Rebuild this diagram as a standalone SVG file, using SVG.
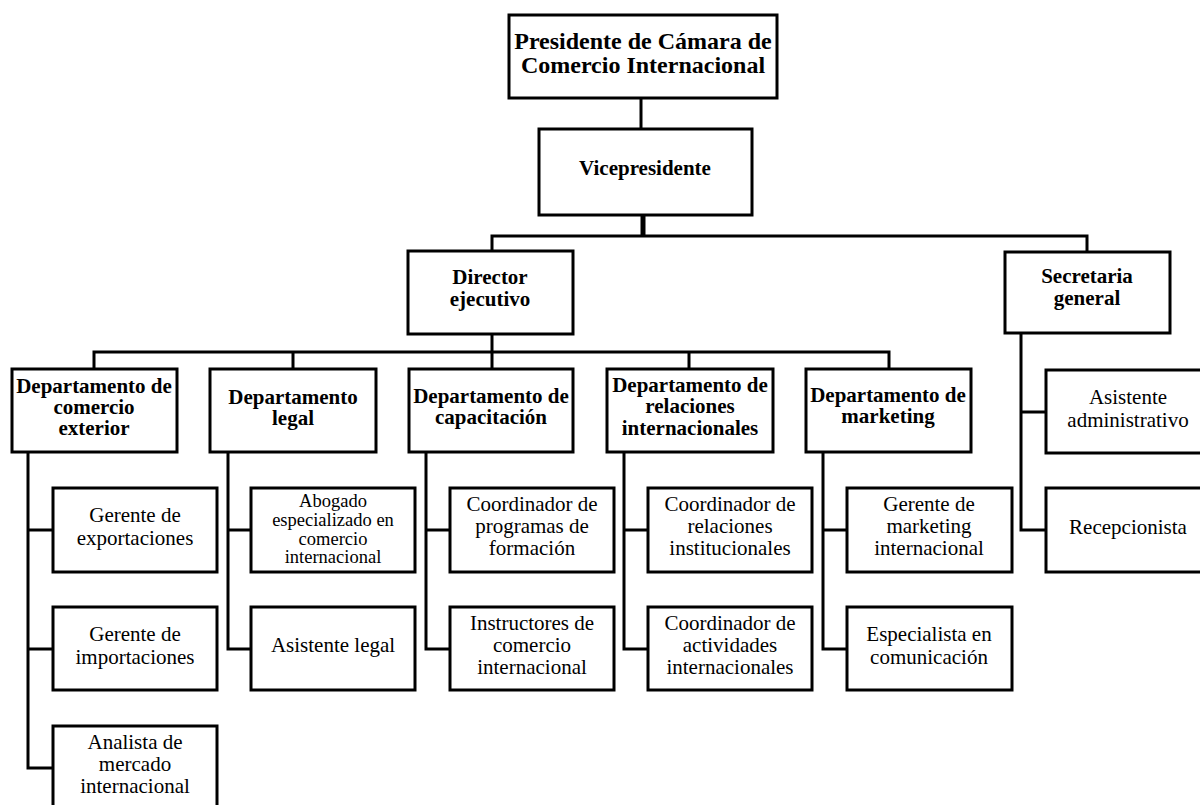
<svg xmlns="http://www.w3.org/2000/svg" width="1200" height="805" viewBox="0 0 1200 805">
<style>
rect{fill:#fff;stroke:#000;stroke-width:3}
.c path{fill:none;stroke:#000;stroke-width:3}
text{font-family:"Liberation Serif","Times New Roman",serif;fill:#000;text-anchor:middle}
.b{font-weight:bold;font-size:21px}
.n{font-size:21px}
.s{font-size:18.5px}
</style>
<rect x="0" y="0" width="1200" height="805" style="fill:#fff;stroke:none"/>
<g class="c" id="connectors">
<path d="M641 98V129"/>
<path d="M643 215V236" style="stroke-width:5"/>
<path d="M492 251V236H1087V251"/>
<path d="M492 334V352"/>
<path d="M94 369V352H889V369"/>
<path d="M293 352V369M492 352V369M689 352V369"/>
<path d="M28 452V768H53M28 530H53M28 649H53"/>
<path d="M228 452V649H251M228 530H251"/>
<path d="M426 452V649H450M426 530H450"/>
<path d="M624 452V649H648M624 530H648"/>
<path d="M823 452V649H847M823 530H847"/>
<path d="M1021 333V530H1046M1021 412H1046"/>
</g>
<g id="presidente"><rect x="509" y="15" width="268" height="83"/>
<text class="b" style="font-size:24px" x="643" y="49">Presidente de Cámara de</text><text class="b" style="font-size:24px" x="643" y="73">Comercio Internacional</text></g>
<g id="vicepresidente"><rect x="539" y="129" width="213" height="86"/>
<text class="b" x="645" y="175">Vicepresidente</text></g>
<g id="director"><rect x="408" y="251" width="165" height="83"/>
<text class="b" x="490" y="284">Director</text><text class="b" x="490" y="306">ejecutivo</text></g>
<g id="secretaria"><rect x="1005" y="252" width="165" height="81"/>
<text class="b" x="1087" y="283">Secretaria</text><text class="b" x="1087" y="305">general</text></g>
<g id="dep-comercio"><rect x="12" y="369" width="165" height="83"/>
<text class="b" x="94" y="393">Departamento de</text><text class="b" x="94" y="414">comercio</text><text class="b" x="94" y="435">exterior</text></g>
<g id="dep-legal"><rect x="210" y="369" width="166" height="83"/>
<text class="b" x="293" y="404">Departamento</text><text class="b" x="293" y="425">legal</text></g>
<g id="dep-capacitacion"><rect x="409" y="369" width="164" height="83"/>
<text class="b" x="491" y="403">Departamento de</text><text class="b" x="491" y="424">capacitación</text></g>
<g id="dep-relaciones"><rect x="607" y="369" width="166" height="83"/>
<text class="b" x="690" y="392">Departamento de</text><text class="b" x="690" y="413">relaciones</text><text class="b" x="690" y="435">internacionales</text></g>
<g id="dep-marketing"><rect x="806" y="369" width="165" height="83"/>
<text class="b" x="888" y="402">Departamento de</text><text class="b" x="888" y="423">marketing</text></g>
<g id="gerente-exportaciones"><rect x="53" y="488" width="164" height="84"/>
<text class="n" x="135" y="522">Gerente de</text><text class="n" x="135" y="545">exportaciones</text></g>
<g id="gerente-importaciones"><rect x="53" y="607" width="164" height="83"/>
<text class="n" x="135" y="641">Gerente de</text><text class="n" x="135" y="664">importaciones</text></g>
<g id="analista"><rect x="53" y="726" width="164" height="84"/>
<text class="n" x="135" y="749">Analista de</text><text class="n" x="135" y="771">mercado</text><text class="n" x="135" y="793">internacional</text></g>
<g id="abogado"><rect x="251" y="488" width="164" height="84"/>
<text class="s" x="333" y="507">Abogado</text><text class="s" x="333" y="526">especializado en</text><text class="s" x="333" y="545">comercio</text><text class="s" x="333" y="563">internacional</text></g>
<g id="asistente-legal"><rect x="251" y="607" width="164" height="83"/>
<text class="n" x="333" y="652">Asistente legal</text></g>
<g id="coord-programas"><rect x="450" y="488" width="164" height="84"/>
<text class="n" x="532" y="511">Coordinador de</text><text class="n" x="532" y="533">programas de</text><text class="n" x="532" y="555">formación</text></g>
<g id="instructores"><rect x="450" y="607" width="164" height="83"/>
<text class="n" x="532" y="630">Instructores de</text><text class="n" x="532" y="652">comercio</text><text class="n" x="532" y="674">internacional</text></g>
<g id="coord-relaciones"><rect x="648" y="488" width="164" height="84"/>
<text class="n" x="730" y="511">Coordinador de</text><text class="n" x="730" y="533">relaciones</text><text class="n" x="730" y="555">institucionales</text></g>
<g id="coord-actividades"><rect x="648" y="607" width="164" height="83"/>
<text class="n" x="730" y="630">Coordinador de</text><text class="n" x="730" y="652">actividades</text><text class="n" x="730" y="674">internacionales</text></g>
<g id="gerente-marketing"><rect x="847" y="488" width="165" height="84"/>
<text class="n" x="929" y="511">Gerente de</text><text class="n" x="929" y="533">marketing</text><text class="n" x="929" y="555">internacional</text></g>
<g id="especialista"><rect x="847" y="607" width="165" height="83"/>
<text class="n" x="929" y="641">Especialista en</text><text class="n" x="929" y="664">comunicación</text></g>
<g id="asistente-admin"><rect x="1046" y="370" width="165" height="83"/>
<text class="n" x="1128" y="404">Asistente</text><text class="n" x="1128" y="427">administrativo</text></g>
<g id="recepcionista"><rect x="1046" y="488" width="165" height="84"/>
<text class="n" x="1128" y="534">Recepcionista</text></g>
</svg>
